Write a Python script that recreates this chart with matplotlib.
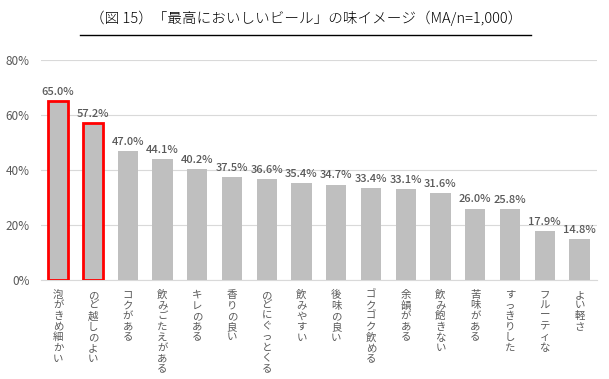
import numpy as np
import matplotlib.pyplot as plt

plt.rcParams['font.family'] = ['Noto Sans CJK JP', 'DejaVu Sans']

categories = ['泡がきめ細かい', 'のど越しのよい', 'コクがある', '飲みごたえがある', 'キレのある',
              '香りの良い', 'のどにぐっとくる', '飲みやすい', '後味の良い', 'ゴクゴク飲める',
              '余韻がある', '飲み飽きない', '苦味がある', 'すっきりした', 'フルーティな', 'よい軽さ']
values = [65.0, 57.2, 47.0, 44.1, 40.2, 37.5, 36.6, 35.4, 34.7, 33.4, 33.1, 31.6, 26.0, 25.8, 17.9, 14.8]
highlight = [0, 1]

fig = plt.figure(figsize=(6.09, 3.79), dpi=100)
ax = fig.add_axes([0.067, 0.261, 0.913, 0.581])

x = np.arange(len(values))
bars = ax.bar(x, values, width=0.58, color='#bfbfbf', zorder=3)
for i in highlight:
    bars[i].set_edgecolor('#ff0000')
    bars[i].set_linewidth(2)

for xi, v in zip(x, values):
    ax.text(xi, v + 1.5, f'{v:.1f}%', ha='center', va='bottom', fontsize=8,
            color='#595959', fontweight='medium')

ax.set_xlim(-0.5, len(values) - 0.5)
ax.set_ylim(0, 80)
ax.set_yticks([0, 20, 40, 60, 80])
ax.set_yticklabels(['0%', '20%', '40%', '60%', '80%'], fontsize=8.5, color='#595959')
ax.yaxis.grid(True, color='#d9d9d9', linewidth=0.8, zorder=0)
ax.tick_params(axis='both', length=0)
ax.tick_params(axis='y', pad=8)
for s in ['top', 'right', 'left']:
    ax.spines[s].set_visible(False)
ax.spines['bottom'].set_color('#d9d9d9')

ax.set_xticks(x)
ax.set_xticklabels(['\n'.join(c) for c in categories], fontsize=7.5, color='#595959',
                   va='top', linespacing=1.08)
ax.tick_params(axis='x', pad=7)

fig.text(0.502, 0.953, '（図 15）「最高においしいビール」の味イメージ（MA/n=1,000）',
         ha='center', va='center', fontsize=10.5, color='#000000', fontweight='light')
fig.add_artist(plt.Line2D([0.132, 0.872], [0.908, 0.908], color='#000000', linewidth=1))

fig.savefig('out.png', dpi=100)
